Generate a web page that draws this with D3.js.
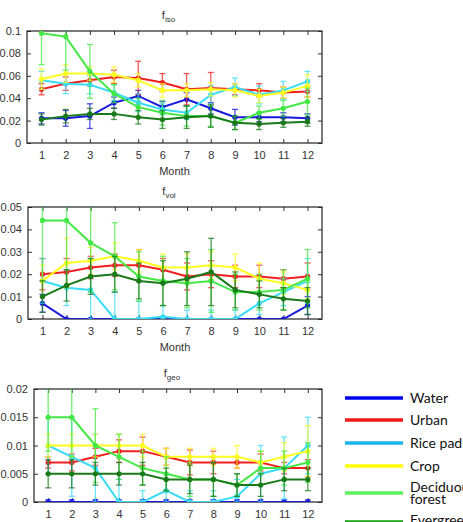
<!DOCTYPE html>
<html>
<head>
<meta charset="utf-8">
<script src="https://cdn.jsdelivr.net/npm/d3@7"></script>
<style>
  body { margin: 0; background: #fff; }
  svg { display: block; }
  .tick-label { font-family: "Liberation Sans", Arial, sans-serif; font-size: 11px; fill: #333; }
  .legend text { font-family: Lato, "Open Sans", sans-serif; font-size: 14px; fill: #111; }
</style>
</head>
<body>
<div id="chart"></div>
<script>
const months = [1, 2, 3, 4, 5, 6, 7, 8, 9, 10, 11, 12];
const categories = ["Water", "Urban", "Rice pad", "Crop", "Deciduous forest", "Evergreen forest"];
const colors = ["#1818e0", "#f02020", "#38dcf8", "#ffff22", "#44e844", "#1a7a1a"];
const legendColors = ["#0000f0", "#f01818", "#1ab4ec", "#ffff00", "#5cf05c", "#18a018"];

// series order follows categories
const isoMean = [
  [0.022, 0.022, 0.024, 0.036, 0.042, 0.032, 0.039, 0.031, 0.023, 0.023, 0.023, 0.022],
  [0.048, 0.053, 0.056, 0.059, 0.058, 0.054, 0.048, 0.049, 0.048, 0.047, 0.045, 0.046],
  [0.056, 0.053, 0.052, 0.045, 0.036, 0.030, 0.027, 0.043, 0.050, 0.043, 0.047, 0.055],
  [0.057, 0.062, 0.062, 0.061, 0.056, 0.047, 0.047, 0.048, 0.047, 0.042, 0.045, 0.051],
  [0.098, 0.095, 0.064, 0.044, 0.032, 0.027, 0.024, 0.024, 0.018, 0.027, 0.031, 0.037],
  [0.021, 0.024, 0.026, 0.026, 0.023, 0.021, 0.023, 0.024, 0.018, 0.017, 0.018, 0.019]
];
const isoErr = [
  [0.005, 0.007, 0.011, 0.005, 0.005, 0.005, 0.006, 0.005, 0.007, 0.004, 0.004, 0.004],
  [0.005, 0.006, 0.005, 0.006, 0.015, 0.008, 0.014, 0.014, 0.005, 0.006, 0.005, 0.005],
  [0.008, 0.009, 0.008, 0.007, 0.008, 0.005, 0.006, 0.008, 0.008, 0.008, 0.008, 0.009],
  [0.009, 0.008, 0.006, 0.007, 0.006, 0.006, 0.006, 0.006, 0.006, 0.006, 0.005, 0.010],
  [0.028, 0.030, 0.024, 0.008, 0.008, 0.011, 0.009, 0.009, 0.006, 0.006, 0.007, 0.012],
  [0.005, 0.006, 0.005, 0.005, 0.006, 0.008, 0.010, 0.010, 0.006, 0.005, 0.004, 0.004]
];

const volMean = [
  [0.007, 0, 0, 0, 0, 0, 0, 0, 0, 0, 0, 0.006],
  [0.020, 0.021, 0.023, 0.024, 0.024, 0.022, 0.019, 0.020, 0.019, 0.019, 0.018, 0.019],
  [0.017, 0.014, 0.013, 0, 0, 0.001, 0, 0, 0, 0.007, 0.012, 0.017],
  [0.017, 0.025, 0.026, 0.028, 0.026, 0.023, 0.023, 0.024, 0.023, 0.018, 0.016, 0.013],
  [0.044, 0.044, 0.034, 0.028, 0.019, 0.017, 0.016, 0.017, 0.012, 0.012, 0.013, 0.018],
  [0.010, 0.015, 0.019, 0.020, 0.017, 0.016, 0.018, 0.021, 0.013, 0.011, 0.009, 0.008]
];
const volErr = [
  [0.004, 0, 0, 0, 0, 0, 0, 0, 0, 0, 0, 0.004],
  [0.007, 0.006, 0.005, 0.005, 0.007, 0.005, 0.006, 0.006, 0.005, 0.005, 0.004, 0.006],
  [0.010, 0.008, 0.014, 0.012, 0.008, 0.005, 0.004, 0.004, 0.004, 0.005, 0.006, 0.010],
  [0.007, 0.011, 0.006, 0.006, 0.005, 0.006, 0.006, 0.006, 0.006, 0.007, 0.005, 0.004],
  [0.027, 0.030, 0.022, 0.015, 0.011, 0.011, 0.011, 0.014, 0.008, 0.008, 0.009, 0.013],
  [0.007, 0.007, 0.008, 0.008, 0.008, 0.010, 0.012, 0.015, 0.008, 0.006, 0.005, 0.006]
];

const geoMean = [
  [0, 0, 0, 0, 0, 0, 0, 0, 0, 0, 0, 0],
  [0.007, 0.007, 0.008, 0.009, 0.009, 0.008, 0.007, 0.007, 0.007, 0.007, 0.006, 0.006],
  [0.010, 0.008, 0.006, 0, 0, 0.002, 0, 0, 0.001, 0.005, 0.006, 0.010],
  [0.010, 0.010, 0.010, 0.010, 0.010, 0.008, 0.008, 0.008, 0.008, 0.007, 0.008, 0.009],
  [0.015, 0.015, 0.010, 0.008, 0.006, 0.005, 0.004, 0.004, 0.003, 0.006, 0.006, 0.007],
  [0.005, 0.005, 0.005, 0.005, 0.005, 0.004, 0.004, 0.004, 0.003, 0.003, 0.004, 0.004]
];
const geoErr = [
  [0.0004, 0.0004, 0.0004, 0.0004, 0.0004, 0.0004, 0.0004, 0.0004, 0.0004, 0.0004, 0.0004, 0.0004],
  [0.001, 0.0015, 0.0015, 0.002, 0.0025, 0.0015, 0.0022, 0.002, 0.001, 0.0015, 0.001, 0.0015],
  [0.005, 0.007, 0.006, 0.004, 0.002, 0.003, 0.002, 0.002, 0.003, 0.005, 0.0055, 0.005],
  [0.002, 0.002, 0.002, 0.002, 0.002, 0.0015, 0.0015, 0.0015, 0.002, 0.002, 0.0025, 0.0045],
  [0.006, 0.007, 0.0065, 0.004, 0.003, 0.003, 0.003, 0.003, 0.002, 0.003, 0.003, 0.0035],
  [0.0025, 0.0025, 0.002, 0.002, 0.002, 0.002, 0.0025, 0.003, 0.002, 0.002, 0.002, 0.002]
];

const isoTicks = ["0", "0.02", "0.04", "0.06", "0.08", "0.1"];
const volTicks = ["0", "0.01", "0.02", "0.03", "0.04", "0.05"];
const geoTicks = ["0", "0.005", "0.01", "0.015", "0.02"];

const width = 463, height = 522;
const svg = d3.select("#chart").append("svg")
  .attr("width", width)
  .attr("height", height);

const panels = [
  { id: "iso", sub: "iso", mean: isoMean, err: isoErr, ticks: isoTicks,
    left: 27, right: 322, top: 31, bottom: 143 },
  { id: "vol", sub: "vol", mean: volMean, err: volErr, ticks: volTicks,
    left: 28, right: 322, top: 207, bottom: 319 },
  { id: "geo", sub: "geo", mean: geoMean, err: geoErr, ticks: geoTicks,
    left: 34, right: 322, top: 389, bottom: 502 }
];

panels.forEach(p => {
  const x = d3.scaleLinear().domain([0.4, 12.6]).range([p.left, p.right]);
  const yMax = +p.ticks[p.ticks.length - 1];
  const y = d3.scaleLinear().domain([0, yMax]).range([p.bottom, p.top]);
  const g = svg.append("g").attr("class", "panel-" + p.id);

  g.append("clipPath").attr("id", "clip-" + p.id)
    .append("rect")
    .attr("x", p.left).attr("y", p.top)
    .attr("width", p.right - p.left).attr("height", p.bottom - p.top);

  // title f_xxx
  const title = g.append("text")
    .attr("x", (p.left + p.right) / 2 - 6)
    .attr("y", p.top - 12)
    .attr("font-family", "Liberation Sans, Arial, sans-serif")
    .attr("font-size", 11)
    .attr("fill", "#333")
    .attr("text-anchor", "middle");
  title.append("tspan").text("f");
  title.append("tspan").attr("dy", 3).attr("font-size", 8).text(p.sub);

  // axes: ticks inside, on all four sides
  const tickLen = 4;
  const yTickVals = p.ticks.map(Number);

  const axL = g.append("g").attr("transform", `translate(${p.left},0)`)
    .call(d3.axisLeft(y).tickValues(yTickVals).tickSize(-tickLen).tickFormat((d, i) => p.ticks[i]).tickPadding(6));
  const axR = g.append("g").attr("transform", `translate(${p.right},0)`)
    .call(d3.axisRight(y).tickValues(yTickVals).tickSize(-tickLen).tickFormat(""));
  const axB = g.append("g").attr("transform", `translate(0,${p.bottom})`)
    .call(d3.axisBottom(x).tickValues(months).tickSize(-tickLen).tickPadding(8));
  const axT = g.append("g").attr("transform", `translate(0,${p.top})`)
    .call(d3.axisTop(x).tickValues(months).tickSize(-tickLen).tickFormat(""));

  [axL, axR, axB, axT].forEach(a => {
    a.select(".domain").remove();
    a.selectAll(".tick line").attr("stroke", "#333");
    a.selectAll(".tick text").attr("class", "tick-label").attr("fill", null)
      .attr("font-family", null).attr("font-size", null);
  });
  g.selectAll(".tick").attr("font-family", null).attr("font-size", null);

  g.append("rect")
    .attr("x", p.left).attr("y", p.top)
    .attr("width", p.right - p.left).attr("height", p.bottom - p.top)
    .attr("fill", "none").attr("stroke", "#222").attr("stroke-width", 1.2);

  // the bottom panel's label falls below the window, as in the reference
  if (p.bottom + 32 < height) {
    g.append("text")
      .attr("class", "tick-label")
      .attr("x", (p.left + p.right) / 2)
      .attr("y", p.bottom + 32)
      .attr("text-anchor", "middle")
      .text("Month");
  }

  const marks = g.append("g").attr("clip-path", `url(#clip-${p.id})`);
  const line = d3.line().x((d, i) => x(months[i])).y(d => y(d));

  p.mean.forEach((vals, s) => {
    const sg = marks.append("g");
    const errs = p.err[s];
    const eb = sg.append("g")
      .attr("stroke", colors[s]).attr("stroke-opacity", 0.75).attr("stroke-width", 1.3);
    vals.forEach((v, i) => {
      const cx = x(months[i]);
      const lo = y(Math.max(0, v - errs[i])), hi = y(v + errs[i]);
      eb.append("line").attr("x1", cx).attr("x2", cx).attr("y1", lo).attr("y2", hi);
      eb.append("line").attr("x1", cx - 3).attr("x2", cx + 3).attr("y1", lo).attr("y2", lo);
      eb.append("line").attr("x1", cx - 3).attr("x2", cx + 3).attr("y1", hi).attr("y2", hi);
    });
    sg.append("path").datum(vals)
      .attr("d", line)
      .attr("fill", "none")
      .attr("stroke", colors[s])
      .attr("stroke-width", 2);
    sg.selectAll("circle").data(vals).join("circle")
      .attr("cx", (d, i) => x(months[i]))
      .attr("cy", d => y(d))
      .attr("r", 2.6)
      .attr("fill", colors[s]);
  });
});

// legend (runs off the bottom edge like the reference)
const legend = svg.append("g").attr("class", "legend");
const rowY = [398, 420, 443, 466, 493, 522];
const textY = [403, 425, 448, 471, 492, 525];
categories.forEach((c, i) => {
  const yy = rowY[i];
  legend.append("line")
    .attr("x1", 345).attr("x2", 403)
    .attr("y1", yy).attr("y2", yy)
    .attr("stroke", legendColors[i]).attr("stroke-width", 3.5);
  const words = c.split(" ");
  const t = legend.append("text").attr("x", 410);
  if (c.endsWith("forest")) {
    t.append("tspan").attr("x", 410).attr("y", textY[i]).text(words[0]);
    t.append("tspan").attr("x", 410).attr("y", textY[i] + 11.5).text(words[1]);
  } else {
    t.attr("y", textY[i]).text(c);
  }
});
</script>
</body>
</html>
